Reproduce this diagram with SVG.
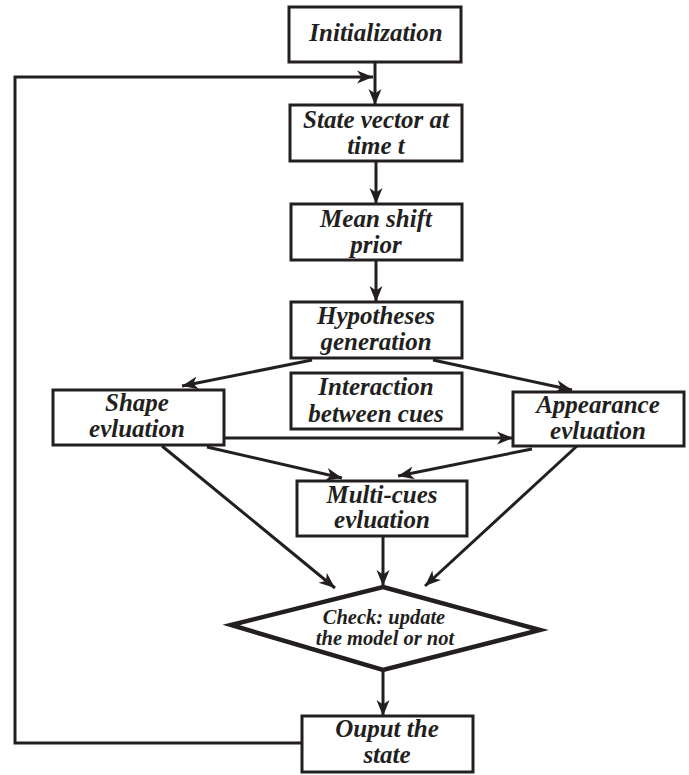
<svg xmlns="http://www.w3.org/2000/svg" width="689" height="775" viewBox="0 0 689 775">
<style>
.box{fill:#fff;stroke:#231f20;stroke-width:3}
.dia{fill:#fff;stroke:#231f20;stroke-width:4.5;stroke-linejoin:miter}
.t{font-family:"Liberation Serif","Times New Roman",serif;font-weight:bold;font-style:italic;font-size:25px;fill:#231f20;text-anchor:middle}
.ts{font-size:20.5px}
.c{fill:none;stroke:#231f20;stroke-width:3}
</style>
<defs>
<marker id="ah" markerUnits="userSpaceOnUse" markerWidth="18" markerHeight="14" refX="16" refY="7" orient="auto">
<path d="M0,0.5 L16,7 L0,13.5 L4.5,7 Z" fill="#231f20"/>
</marker>
</defs>
<g id="connectors">
<line class="c" x1="375" y1="62" x2="375" y2="105" marker-end="url(#ah)"/>
<polyline class="c" points="302,743 15,743 15,77 373,77" marker-end="url(#ah)"/>
<line class="c" x1="376" y1="161" x2="376" y2="204" marker-end="url(#ah)"/>
<line class="c" x1="376" y1="260" x2="376" y2="302" marker-end="url(#ah)"/>
<line class="c" x1="312" y1="360" x2="182" y2="386" marker-end="url(#ah)"/>
<line class="c" x1="433" y1="360" x2="572" y2="390" marker-end="url(#ah)"/>
<line class="c" x1="224" y1="438" x2="513" y2="438" marker-end="url(#ah)"/>
<line class="c" x1="207" y1="447" x2="342" y2="478" marker-end="url(#ah)"/>
<line class="c" x1="532" y1="449" x2="398" y2="476" marker-end="url(#ah)"/>
<line class="c" x1="162" y1="446" x2="335" y2="588" marker-end="url(#ah)"/>
<line class="c" x1="383" y1="536" x2="383" y2="586" marker-end="url(#ah)"/>
<line class="c" x1="577" y1="446" x2="425" y2="586" marker-end="url(#ah)"/>
<line class="c" x1="383" y1="671" x2="383" y2="716" marker-end="url(#ah)"/>
</g>
<g id="init">
<rect class="box" x="289" y="7" width="172" height="55"/>
<text class="t" x="376" y="41">Initialization</text>
</g>
<g id="state">
<rect class="box" x="290" y="105" width="172" height="56"/>
<text class="t" x="376" y="128">State vector at</text>
<text class="t" x="376" y="154">time t</text>
</g>
<g id="meanshift">
<rect class="box" x="291" y="204" width="171" height="56"/>
<text class="t" x="376" y="227">Mean shift</text>
<text class="t" x="376" y="253">prior</text>
</g>
<g id="hypotheses">
<rect class="box" x="291" y="302" width="171" height="56"/>
<text class="t" x="376" y="324">Hypotheses</text>
<text class="t" x="376" y="350">generation</text>
</g>
<g id="interaction">
<rect class="box" x="291" y="373" width="171" height="56"/>
<text class="t" x="376" y="395">Interaction</text>
<text class="t" x="376" y="422">between cues</text>
</g>
<g id="shape">
<rect class="box" x="53" y="390" width="171" height="55"/>
<text class="t" x="137" y="411">Shape</text>
<text class="t" x="137" y="437">evluation</text>
</g>
<g id="appearance">
<rect class="box" x="513" y="392" width="171" height="54"/>
<text class="t" x="598" y="413">Appearance</text>
<text class="t" x="598" y="439">evluation</text>
</g>
<g id="multicues">
<rect class="box" x="297" y="481" width="170" height="55"/>
<text class="t" x="382" y="503">Multi-cues</text>
<text class="t" x="382" y="528">evluation</text>
</g>
<g id="check">
<polygon class="dia" points="383,587 540,630 383,670 231,625"/>
<text class="t ts" x="384" y="624">Check: update</text>
<text class="t ts" x="385" y="645">the model or not</text>
</g>
<g id="output">
<rect class="box" x="302" y="716" width="171" height="56"/>
<text class="t" x="387" y="737">Ouput the</text>
<text class="t" x="387" y="763">state</text>
</g>
</svg>
